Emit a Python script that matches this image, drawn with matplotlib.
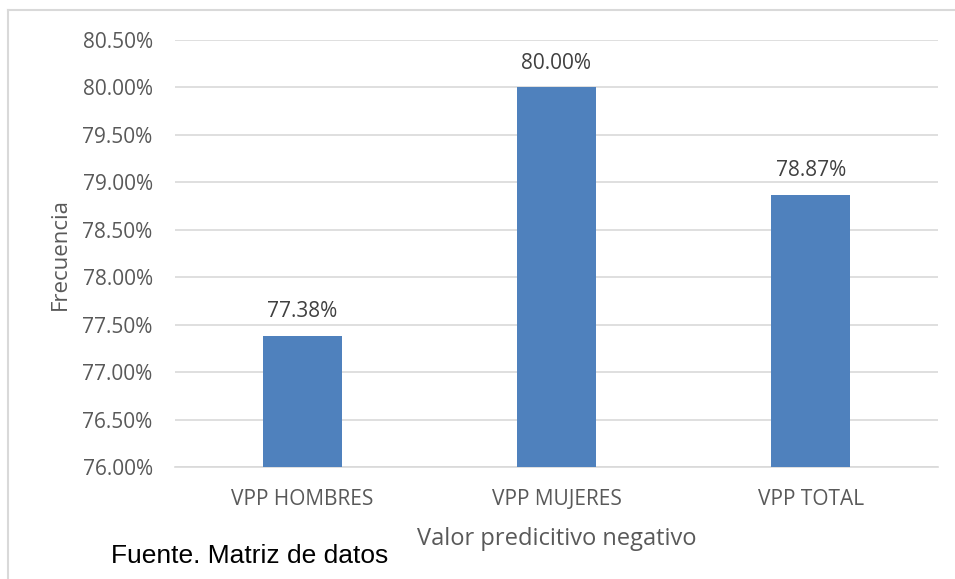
import matplotlib.pyplot as plt
from matplotlib.lines import Line2D

# valor predictivo por grupo (%)
categorias = ['VPP HOMBRES', 'VPP MUJERES', 'VPP TOTAL']
valores = [77.38, 80.00, 78.87]
ticks_y = [76.0, 76.5, 77.0, 77.5, 78.0, 78.5, 79.0, 79.5, 80.0, 80.5]

plt.rcParams['font.family'] = ['Open Sans', 'DejaVu Sans']

fig = plt.figure(figsize=(9.55, 5.79), dpi=100)
ax = fig.add_axes([0.1832, 0.1934, 0.799, 0.7375])

x = range(len(categorias))
ax.bar(x, valores, width=0.31, color='#4F81BD', zorder=3)

ax.set_ylim(76.0, 80.5)
ax.set_xlim(-0.5, 2.5)
ax.set_yticks(ticks_y)
ax.set_yticklabels(['%.2f%%' % t for t in ticks_y])
ax.set_xticks(list(x))
ax.set_xticklabels(categorias)
ax.tick_params(axis='both', length=0, labelsize=15, colors='#595959')
ax.tick_params(axis='y', pad=16)
ax.tick_params(axis='x', pad=16)

ax.grid(axis='y', color='#d9d9d9', linewidth=1.2, zorder=0)
for s in ['top', 'right', 'left']:
    ax.spines[s].set_visible(False)
ax.spines['bottom'].set_color('#d9d9d9')
ax.spines['bottom'].set_linewidth(1.2)

for i, v in enumerate(valores):
    ax.annotate('%.2f%%' % v, (i, v), xytext=(0, 10), textcoords='offset points',
                ha='center', va='bottom', fontsize=15, color='#404040')

ax.set_xlabel('Valor predicitivo negativo', fontsize=17, color='#595959', labelpad=12)
ax.set_ylabel('Frecuencia', fontsize=16, color='#595959', labelpad=8)

# marco exterior
fig.add_artist(Line2D([7.5 / 955, 7.5 / 955], [0, 1 - 9.5 / 579], transform=fig.transFigure,
                      color='#d9d9d9', linewidth=1.5))
fig.add_artist(Line2D([7.5 / 955, 1], [1 - 9.5 / 579, 1 - 9.5 / 579], transform=fig.transFigure,
                      color='#d9d9d9', linewidth=1.5))

fig.text(111 / 955, 1 - 556 / 579, 'Fuente. Matriz de datos', fontsize=19,
         family='Liberation Sans', color='black', ha='left', va='center')

fig.savefig('out.png', dpi=100)
